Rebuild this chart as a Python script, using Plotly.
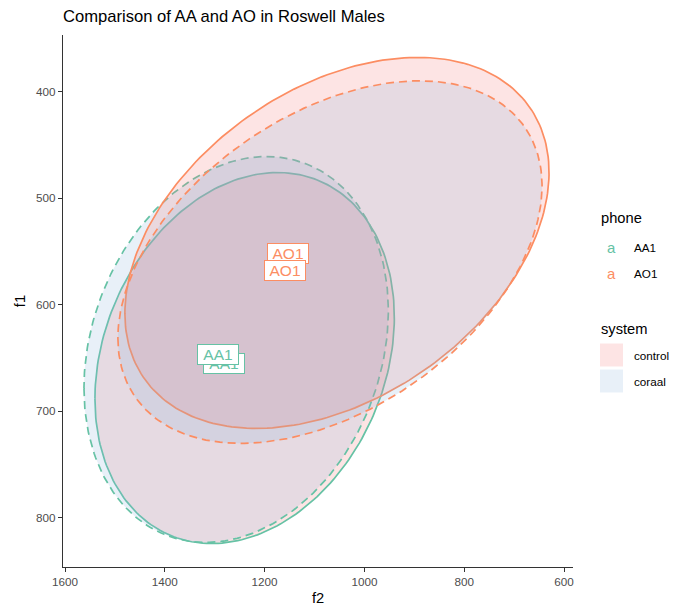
import numpy as np
import plotly.graph_objects as go

# ---- data ----
phones = ["AA1", "AA1", "AO1", "AO1"]
systems = ["control", "coraal", "control", "coraal"]
center_f2 = [1240, 1257, 1055, 1069]
center_f1 = [650, 642, 542, 560]
spread_f2 = [300, 305, 425, 425]
spread_f1 = [174, 181, 174, 170]
corr = [0.22, 0.2, 0.38, 0.42]

label_phone = ["AA1", "AA1", "AO1", "AO1"]
label_f2 = [1281, 1293, 1153, 1159]
label_f1 = [655, 647, 552, 568]

phone_colors = {"AA1": "#66C2A5", "AO1": "#FC8D62"}
system_fill = {"control": "rgba(244,118,118,0.2)", "coraal": "rgba(140,180,220,0.2)"}
system_dash = {"control": "solid", "coraal": "8px,5px"}

FONT = "Liberation Sans, Arial, sans-serif"

fig = go.Figure()
t = np.linspace(0, 2 * np.pi, 240)
for i in range(len(phones)):
    x = center_f2[i] + spread_f2[i] * np.cos(t)
    y = center_f1[i] + spread_f1[i] * (corr[i] * np.cos(t) + np.sqrt(1 - corr[i] ** 2) * np.sin(t))
    fig.add_trace(go.Scatter(
        x=x, y=y, mode="lines", fill="toself",
        fillcolor=system_fill[systems[i]],
        line=dict(color=phone_colors[phones[i]], width=1.7, dash=system_dash[systems[i]]),
        showlegend=False, hoverinfo="skip"))

# Labels at means
annotations = []
for p, xv, yv in zip(label_phone, label_f2, label_f1):
    annotations.append(dict(
        x=xv, y=yv, xref="x", yref="y", text=p, showarrow=False,
        font=dict(family=FONT, size=15.5, color=phone_colors[p]),
        width=36, height=15, align="center", valign="middle",
        bgcolor="white", bordercolor=phone_colors[p], borderwidth=1, borderpad=2))

# Manual legend (ggplot style)
L, R, T, B = 63, 100, 35, 39
W, H = 673, 606
pw, ph = W - L - R, H - T - B

def px(xp):
    return (xp - L) / pw

def py(yp):
    return (H - B - yp) / ph

annotations.append(dict(x=px(599), y=py(218), xref="paper", yref="paper", text="phone",
                        showarrow=False, xanchor="left", yanchor="middle",
                        font=dict(family=FONT, size=14.7, color="black")))
for name, yy in [("AA1", 247), ("AO1", 273)]:
    annotations.append(dict(x=px(611), y=py(yy), xref="paper", yref="paper", text="a",
                            showarrow=False, xanchor="center", yanchor="middle",
                            font=dict(family=FONT, size=15, color=phone_colors[name])))
    annotations.append(dict(x=px(632), y=py(yy), xref="paper", yref="paper", text=name,
                            showarrow=False, xanchor="left", yanchor="middle",
                            font=dict(family=FONT, size=11.7, color="black")))
annotations.append(dict(x=px(599), y=py(329), xref="paper", yref="paper", text="system",
                        showarrow=False, xanchor="left", yanchor="middle",
                        font=dict(family=FONT, size=14.7, color="black")))
shapes = []
for name, yy in [("control", 355), ("coraal", 381)]:
    shapes.append(dict(type="rect", xref="paper", yref="paper",
                       x0=px(600), x1=px(623), y0=py(yy - 11.5), y1=py(yy + 11.5),
                       fillcolor=system_fill[name], line=dict(width=0)))
    annotations.append(dict(x=px(632), y=py(yy), xref="paper", yref="paper", text=name,
                            showarrow=False, xanchor="left", yanchor="middle",
                            font=dict(family=FONT, size=11.7, color="black")))

axis_common = dict(
    showgrid=False, zeroline=False, showline=True, linecolor="#333333", linewidth=1.1,
    ticks="outside", ticklen=4, tickwidth=1.1, tickcolor="#333333", automargin=False,
    tickfont=dict(family=FONT, size=11.7, color="#4D4D4D"),
)

fig.update_layout(
    width=W, height=H,
    margin=dict(l=L, r=R, t=T, b=B),
    paper_bgcolor="white", plot_bgcolor="white",
    title=dict(text="Comparison of AA and AO in Roswell Males", x=0.0,
               xref="paper", xanchor="left", yref="container", y=1 - 16 / H, yanchor="middle",
               font=dict(family=FONT, size=16.6, color="black")),
    xaxis=dict(range=[1604, 582], tickvals=[1600, 1400, 1200, 1000, 800, 600],
               title=dict(text="f2", font=dict(family=FONT, size=14.7, color="black"), standoff=13),
               **axis_common),
    yaxis=dict(range=[846, 347], tickvals=[400, 500, 600, 700, 800],
               title=dict(text="f1", font=dict(family=FONT, size=14.7, color="black"), standoff=6),
               **axis_common),
    annotations=annotations, shapes=shapes, showlegend=False,
)

fig.write_html("out.html")
